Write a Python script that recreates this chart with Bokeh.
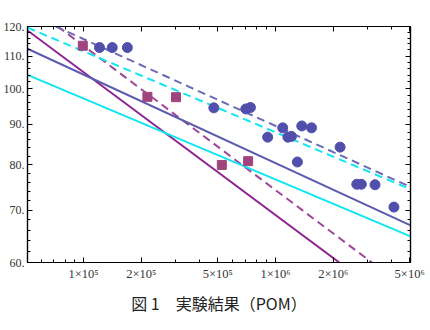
from bokeh.plotting import figure
from bokeh.models import (FixedTicker, LogAxis, CustomJSTickFormatter, Title,
                          ColumnDataSource)
from bokeh.embed import file_html
from bokeh.resources import INLINE

# ---- data ----
circle_x = [1.21e5, 1.41e5, 1.69e5, 4.77e5, 7.0e5, 7.4e5, 9.1e5, 1.09e6,
            1.16e6, 1.21e6, 1.30e6, 1.37e6, 1.54e6, 2.17e6, 2.65e6, 2.80e6,
            3.30e6, 4.14e6]
circle_y = [112.8, 112.8, 112.8, 94.5, 94.2, 94.6, 86.7, 89.1,
            86.7, 86.9, 80.6, 89.6, 89.1, 84.2, 75.5, 75.5,
            75.4, 70.6]
square_x = [0.99e5, 2.15e5, 3.03e5, 5.25e5, 7.2e5]
square_y = [113.4, 97.6, 97.5, 79.9, 80.8]

# fitted lines, two end points each (N, stress)
purple_solid_x = [5.1e4, 2.15e6]
purple_solid_y = [118.6, 60.0]
purple_dash_x = [7.33e4, 3.18e6]
purple_dash_y = [120.0, 60.0]
blue_solid_x = [5.1e4, 5.05e6]
blue_solid_y = [112.4, 66.9]
blue_dash_x = [7.16e4, 5.05e6]
blue_dash_y = [120.0, 74.9]
cyan_solid_x = [5.1e4, 5.05e6]
cyan_solid_y = [104.1, 64.8]
cyan_dash_x = [5.1e4, 5.05e6]
cyan_dash_y = [119.6, 74.4]

x_ticks = [1e5, 2e5, 5e5, 1e6, 2e6, 5e6]
x_minor = [6e4, 7e4, 8e4, 9e4, 3e5, 4e5, 6e5, 7e5, 8e5, 9e5, 3e6, 4e6]
y_ticks = [60, 70, 80, 90, 100, 110, 120]
y_minor = [62, 64, 66, 68, 72, 74, 76, 78, 82, 84, 86, 88, 92, 94, 96, 98,
           102, 104, 106, 108, 112, 114, 116, 118]
caption = "図 1　実験結果（POM）"

p = figure(width=430, height=330, x_axis_type="log", y_axis_type="log",
           x_range=(5.1e4, 5.05e6), y_range=(60, 120),
           output_backend="svg", toolbar_location=None,
           min_border_left=27, min_border_right=20, min_border_top=26,
           min_border_bottom=68)
p.background_fill_color = "white"
p.border_fill_color = "white"
p.grid.visible = False
p.outline_line_color = "black"
p.outline_line_width = 1.2

xt = FixedTicker(ticks=x_ticks, minor_ticks=x_minor)
yt = FixedTicker(ticks=y_ticks, minor_ticks=y_minor)

xfmt = CustomJSTickFormatter(code="""
const e = Math.floor(Math.log10(tick) + 1e-9);
const m = Math.round(tick / Math.pow(10, e));
const sup = {'4': '\u2074', '5': '\u2075', '6': '\u2076', '7': '\u2077'};
return m + '\u00d710' + sup[String(e)];
""")
yfmt = CustomJSTickFormatter(code="return Math.round(tick) + '.';")

def style_axis(ax, ticker, labels=True, fmt=None):
    ax.ticker = ticker
    ax.major_tick_in = 5
    ax.major_tick_out = 0
    ax.minor_tick_in = 3
    ax.minor_tick_out = 0
    ax.axis_line_color = "black"
    ax.axis_line_width = 1.2
    ax.major_tick_line_color = "black"
    ax.minor_tick_line_color = "black"
    if labels:
        ax.formatter = fmt
        ax.major_label_text_font = "Liberation Serif"
        ax.major_label_text_font_size = "12.5px"
        ax.major_label_text_color = "#333333"
        ax.major_label_standoff = 4

style_axis(p.xaxis[0], xt, True, xfmt)
style_axis(p.yaxis[0], yt, True, yfmt)
p.yaxis[0].major_label_text_font_size = "12px"
p.yaxis[0].major_label_standoff = 3

top = LogAxis(formatter=CustomJSTickFormatter(code="return '';"))
style_axis(top, FixedTicker(ticks=x_ticks, minor_ticks=x_minor), False)
top.major_label_text_font_size = "0px"
right = LogAxis(formatter=CustomJSTickFormatter(code="return '';"))
style_axis(right, FixedTicker(ticks=y_ticks, minor_ticks=y_minor), False)
right.major_label_text_font_size = "0px"
p.add_layout(top, "above")
p.add_layout(right, "right")

lw = 2
p.line(purple_solid_x, purple_solid_y, line_color="#8E2290", line_width=lw)
p.line(purple_dash_x, purple_dash_y, line_color="#A0469A", line_width=lw,
       line_dash="8 5")
p.line(blue_solid_x, blue_solid_y, line_color="#5B5BB0", line_width=lw)
p.line(blue_dash_x, blue_dash_y, line_color="#6A6AB5", line_width=lw,
       line_dash="8 5")
p.line(cyan_solid_x, cyan_solid_y, line_color="#10E6F2", line_width=lw)
p.line(cyan_dash_x, cyan_dash_y, line_color="#10E6F2", line_width=lw,
       line_dash="8 5")

p.scatter(circle_x, circle_y, marker="circle", size=10,
          fill_color="#5050AC", line_color="#5050AC")
p.scatter(square_x, square_y, marker="square", size=9,
          fill_color="#A0447E", line_color="#A0447E")

cap = Title(text=caption, align="center", text_font="Noto Sans CJK JP",
            text_font_size="16px", text_font_style="normal",
            text_color="#222222", standoff=10)
p.add_layout(cap, "below")

open("out.html", "w").write(file_html(p, INLINE))
